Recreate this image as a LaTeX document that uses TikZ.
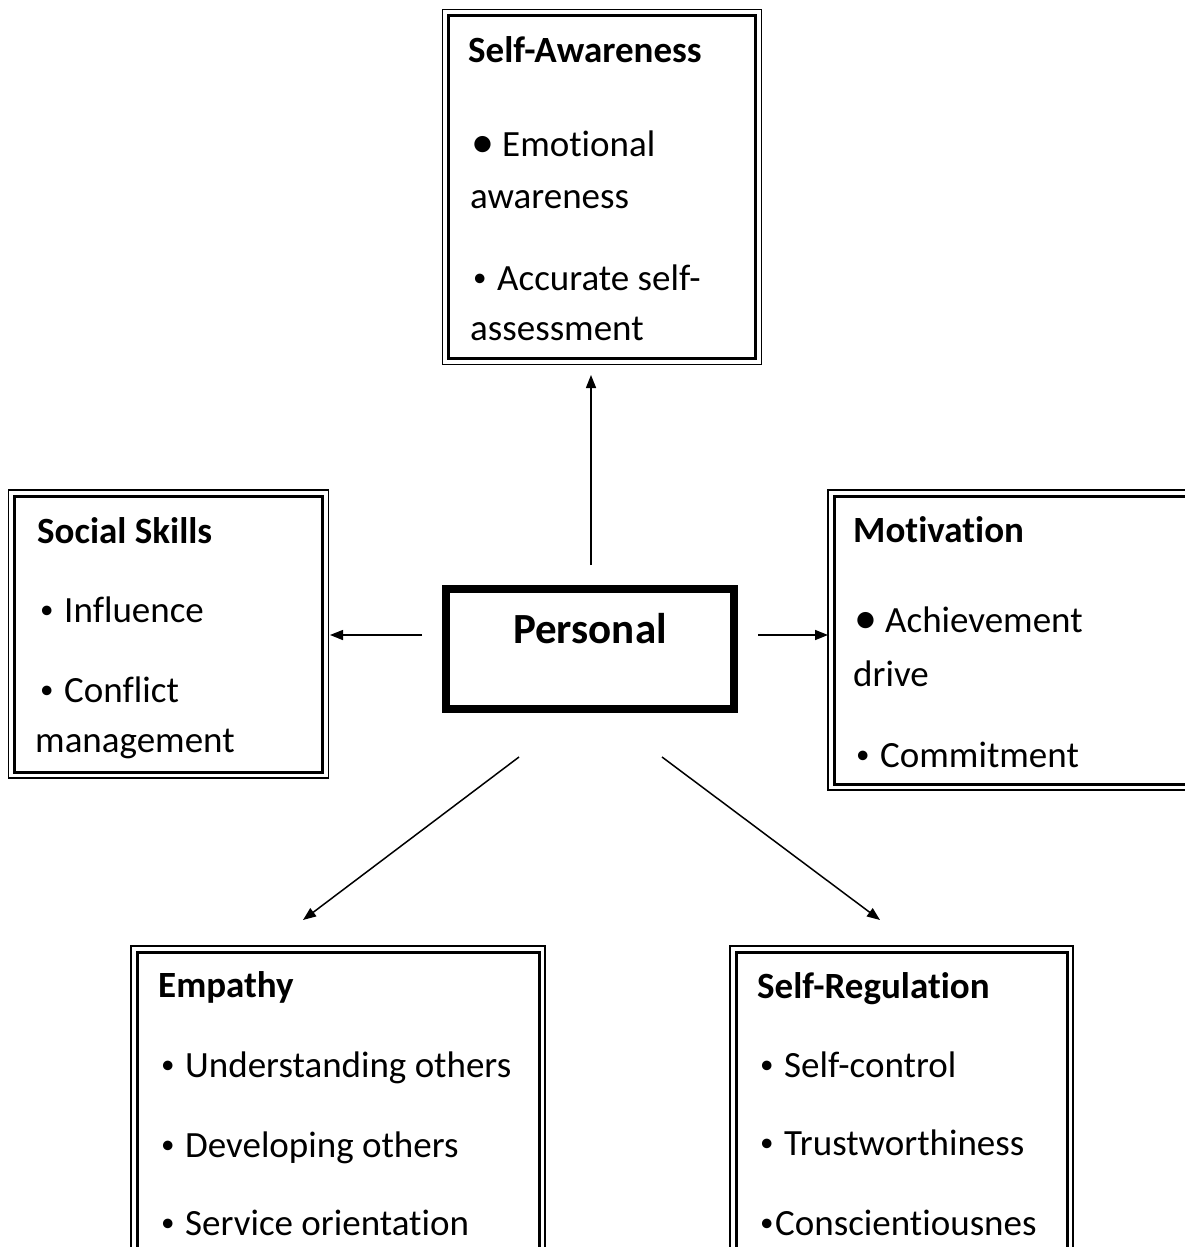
\documentclass[tikz,border=0pt]{standalone}
\usepackage{fontspec}
\setmainfont{Carlito}[Ligatures={NoCommon}]
\usetikzlibrary{arrows.meta,calc}
\newcommand\bigbul{\makebox[32pt][l]{\hspace{1pt}{\fontsize{46}{46}\selectfont\raisebox{-1pt}{•}}}}
\newcommand\smbul{\makebox[27pt][l]{\hspace{3pt}{\fontsize{27}{27}\selectfont\raisebox{4pt}{•}}}}
\newcommand\tightbul{\makebox[18pt][l]{\hspace{3pt}{\fontsize{27}{27}\selectfont\raisebox{4pt}{•}}}}
\begin{document}
\begin{tikzpicture}[x=1pt,y=-1pt,
  outerbox/.style={draw,line width=1.5pt,inner sep=0pt,outer sep=0pt},
  heavybox/.style={draw,line width=8pt,inner sep=0pt,outer sep=0pt},
  txt/.style={anchor=base west,inner sep=0pt,font=\fontsize{37}{44}\selectfont},
  head/.style={anchor=base west,inner sep=0pt,font=\fontsize{37}{44}\selectfont\bfseries},
  arr/.style={line width=1.5pt,-{Triangle[length=13pt,width=10pt]}}]
\useasboundingbox (0,0) rectangle (1185,1247);
\fill[white] (0,0) rectangle (1185,1247);
\clip (0,0) rectangle (1185,1247);

% boxes
\node[outerbox,minimum width=319pt,minimum height=355pt] (sa) at (602,187) {};
\node[outerbox,minimum width=320pt,minimum height=288pt] (ss) at (168.5,634) {};
\node[outerbox,minimum width=372pt,minimum height=300pt] (mo) at (1014,640) {};
\node[heavybox,minimum width=288pt,minimum height=120pt] (pe) at (590,649) {};
\node[outerbox,minimum width=414pt,minimum height=319pt] (em) at (338,1105.5) {};
\node[outerbox,minimum width=343pt,minimum height=319pt] (sr) at (901.5,1105.5) {};
\foreach \n in {sa,ss,mo,em,sr}
  \draw[line width=3pt] ([shift={(6,6)}]\n.north west) rectangle ([shift={(-6,-6)}]\n.south east);

% Personal
\node[anchor=base,inner sep=0pt,font=\fontsize{43}{50}\selectfont\bfseries] (pet) at (590,643) {Personal};

% Self-Awareness
\node[head] (sa0) at (468,63) {Self-Awareness};
\node[txt] (sa1) at (470,156) {\bigbul Emotional};
\node[txt] (sa2) at (470,208) {awareness};
\node[txt] (sa3) at (470,290) {\smbul Accurate self-};
\node[txt] (sa4) at (470,340) {assessment};

% Social Skills
\node[head] (ss0) at (37,543) {Social Skills};
\node[txt] (ss1) at (37,622) {\smbul Influence};
\node[txt] (ss2) at (37,702) {\smbul Conflict};
\node[txt] (ss3) at (35,752) {management};

% Motivation
\node[head] (mo0) at (853,542) {Motivation};
\node[txt] (mo1) at (853,632) {\bigbul Achievement};
\node[txt] (mo2) at (853,686) {drive};
\node[txt] (mo3) at (853,767) {\smbul Commitment};

% Empathy
\node[head] (em0) at (158,997) {Empathy};
\node[txt] (em1) at (158,1077) {\smbul Understanding others};
\node[txt] (em2) at (158,1157) {\smbul Developing others};
\node[txt] (em3) at (158,1235) {\smbul Service orientation};

% Self-Regulation
\node[head] (sr0) at (757,998) {Self-Regulation};
\node[txt] (sr1) at (757,1077) {\smbul Self-control};
\node[txt] (sr2) at (757,1155) {\smbul Trustworthiness};
\node[txt] (sr3) at (757,1235) {\tightbul Conscientiousnes};

% connector ends
\coordinate (uA) at (591,565);
\coordinate (uB) at (591,375);
\coordinate (lA) at (422,635);
\coordinate (lB) at (330,635);
\coordinate (rA) at (758,635);
\coordinate (rB) at (828,635);
\coordinate (dlA) at (519,757);
\coordinate (dlB) at (303,920);
\coordinate (drA) at (662,757);
\coordinate (drB) at (880,920);

\draw[arr] (uA) -- (uB);
\draw[arr] (lA) -- (lB);
\draw[arr] (rA) -- (rB);
\draw[arr] (dlA) -- (dlB);
\draw[arr] (drA) -- (drB);
\end{tikzpicture}
\end{document}
